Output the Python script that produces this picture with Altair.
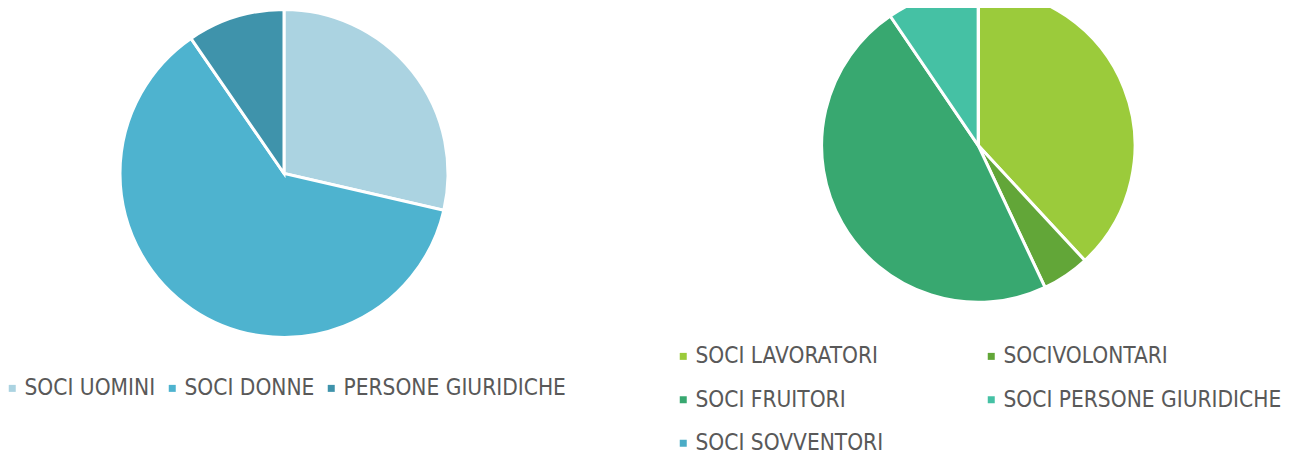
import altair as alt
import pandas as pd

# Left pie
left_cats = ["SOCI UOMINI", "SOCI DONNE", "PERSONE GIURIDICHE"]
left_vals = [28.6, 61.8, 9.6]
left_colors = ["#ABD3E1", "#4EB3CF", "#3F93AB"]

# Right pie
right_cats = ["SOCI LAVORATORI", "SOCIVOLONTARI", "SOCI FRUITORI",
              "SOCI PERSONE GIURIDICHE", "SOCI SOVVENTORI"]
right_vals = [38.1, 4.9, 47.5, 9.5, 0.0]
right_colors = ["#9BCB3B", "#62A638", "#38A870", "#45C1A4", "#4BACC6"]

FONT = "DejaVu Sans Condensed"
LABEL_COLOR = "#595959"

left_df = pd.DataFrame({"cat": left_cats, "val": left_vals, "idx": range(len(left_cats))})
right_df = pd.DataFrame({"cat": right_cats, "val": right_vals, "idx": range(len(right_cats))})

left = alt.Chart(left_df).mark_arc(stroke="white", strokeWidth=3, outerRadius=164).encode(
    theta=alt.Theta("val:Q", stack=True),
    order=alt.Order("idx:Q"),
    color=alt.Color(
        "cat:N",
        scale=alt.Scale(domain=left_cats, range=left_colors),
        legend=alt.Legend(
            title=None, orient="none", direction="horizontal",
            legendX=-7, legendY=369, columnPadding=5,
        ),
    ),
    x=alt.value(276),
    y=alt.value(165.5),
)

right = alt.Chart(right_df).mark_arc(stroke="white", strokeWidth=3, outerRadius=156.7).encode(
    theta=alt.Theta("val:Q", stack=True),
    order=alt.Order("idx:Q"),
    color=alt.Color(
        "cat:N",
        scale=alt.Scale(domain=right_cats, range=right_colors),
        legend=alt.Legend(
            title=None, orient="none", direction="horizontal", columns=2,
            legendX=664, legendY=337, columnPadding=96, rowPadding=20.5,
        ),
    ),
    x=alt.value(970.3),
    y=alt.value(137.6),
)

chart = alt.layer(left, right).resolve_scale(color="independent").properties(
    width=1285, height=446,
    autosize=alt.AutoSizeParams(type="none"),
    padding=0,
).configure_view(stroke=None).configure_legend(
    symbolType="square", symbolSize=49, symbolStrokeWidth=0,
    labelFont=FONT, labelFontSize=22.5, labelColor=LABEL_COLOR,
    labelOffset=1, padding=0, labelLimit=400,
)

chart.save("out.html", embed_options={"renderer": "svg", "actions": False})
